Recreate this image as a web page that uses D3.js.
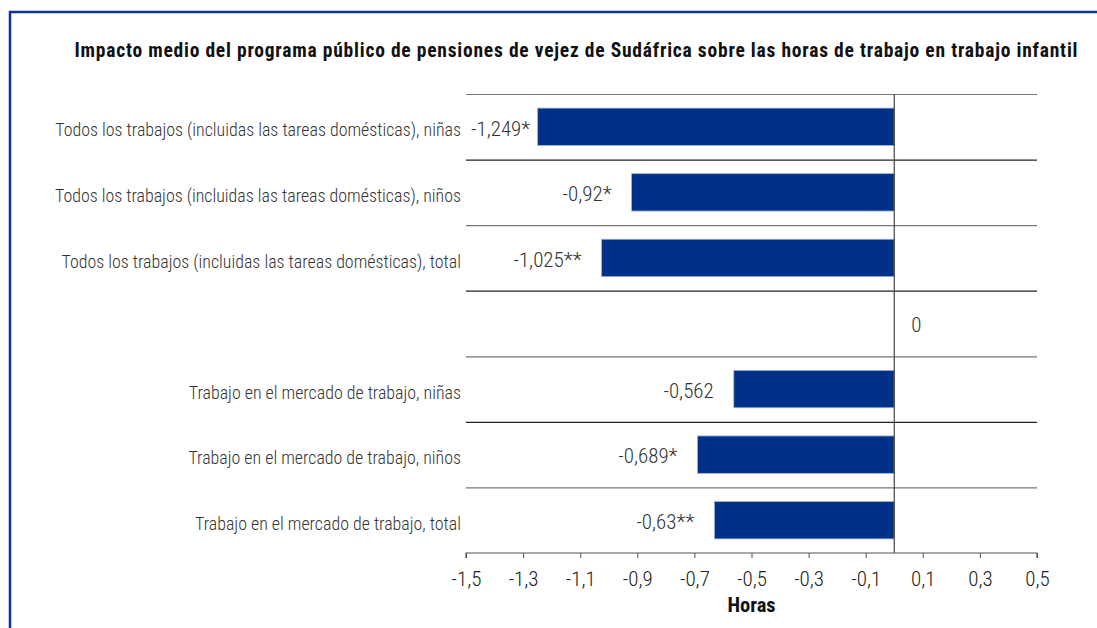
<!DOCTYPE html>
<html>
<head>
<meta charset="utf-8">
<script src="https://cdn.jsdelivr.net/npm/d3@7"></script>
<style>
  body { margin: 0; background: #fff; }
  svg { display: block; }
</style>
</head>
<body>
<script>
// data
var categories = [
  "Todos los trabajos (incluidas las tareas domésticas), niñas",
  "Todos los trabajos (incluidas las tareas domésticas), niños",
  "Todos los trabajos (incluidas las tareas domésticas), total",
  "",
  "Trabajo en el mercado de trabajo, niñas",
  "Trabajo en el mercado de trabajo, niños",
  "Trabajo en el mercado de trabajo, total"
];
var values = [-1.249, -0.92, -1.025, 0, -0.562, -0.689, -0.63];
var valueLabels = ["-1,249*", "-0,92*", "-1,025**", "0", "-0,562", "-0,689*", "-0,63**"];
var tickValues = [-1.5, -1.3, -1.1, -0.9, -0.7, -0.5, -0.3, -0.1, 0.1, 0.3, 0.5];
var title = "Impacto medio del programa público de pensiones de vejez de Sudáfrica sobre las horas de trabajo en trabajo infantil";
var axisTitle = "Horas";

var W = 1097, H = 628;
var mLeft = 466, mRight = 1037, mTop = 94, mBottom = 553;
var font = "'Roboto Condensed', 'Liberation Sans Narrow', sans-serif";

var svg = d3.select("body").append("svg")
    .attr("width", W).attr("height", H);

// frame
svg.append("path")
   .attr("d", "M10,628 L10,12 L1097,12")
   .attr("fill", "none")
   .attr("stroke", "#0a3591")
   .attr("stroke-width", 2.5);

svg.append("text")
   .attr("x", 576).attr("y", 57)
   .attr("text-anchor", "middle")
   .attr("textLength", 1003)
   .attr("lengthAdjust", "spacing")
   .style("font-family", font)
   .style("font-size", "19.5px")
   .style("font-weight", "bold")
   .attr("fill", "#111")
   .text(title);

var x = d3.scaleLinear().domain([-1.5, 0.5]).range([mLeft, mRight]);
var y = d3.scaleBand().domain(d3.range(categories.length)).range([mTop, mBottom]).paddingInner(0.43).paddingOuter(0.215);
var yb = d3.scaleBand().domain(d3.range(categories.length)).range([mTop, mBottom]);

// band lines
svg.append("g").selectAll("line")
   .data(d3.range(categories.length))
   .enter().append("line")
   .attr("x1", mLeft).attr("x2", mRight)
   .attr("y1", function(d) { return yb(d) + 0.5; })
   .attr("y2", function(d) { return yb(d) + 0.5; })
   .attr("stroke", function(d, i) { return i % 2 ? "#222" : "#777"; })
   .attr("stroke-width", 1.2);

// bars
svg.append("g").selectAll("rect")
   .data(values).enter()
   .append("rect")
   .attr("x", function(d) { return x(Math.min(0, d)); })
   .attr("y", function(d, i) { return y(i); })
   .attr("width", function(d) { return Math.abs(x(d) - x(0)); })
   .attr("height", y.bandwidth())
   .attr("fill", "#003087")
   .attr("stroke", function(d) { return d == 0 ? "none" : "#9fb3dc"; })
   .attr("stroke-width", 0.8);

// zero line
svg.append("line")
   .attr("x1", x(0)).attr("x2", x(0))
   .attr("y1", mTop).attr("y2", mBottom)
   .attr("stroke", "#444").attr("stroke-width", 1.2);

// x axis
var axis = d3.axisBottom(x)
    .tickValues(tickValues)
    .tickSize(5)
    .tickFormat(function(d) { return d3.format(".1f")(d).replace(".", ",").replace("−", "-"); });
var gx = svg.append("g")
    .attr("transform", "translate(0," + mBottom + ")")
    .call(axis);
gx.select(".domain").attr("stroke", "#555").attr("stroke-width", 1.2).attr("d", "M" + mLeft + ",5V0H" + mRight + "V5");
gx.selectAll(".tick line").attr("stroke", "#555");
gx.selectAll(".tick text")
  .attr("y", 33).attr("dy", 0)
  .style("font-family", font)
  .style("font-size", "21px")
  .style("font-weight", 300)
  .attr("fill", "#222");

svg.append("text")
   .attr("x", (mLeft + mRight) / 2).attr("y", 612)
   .attr("text-anchor", "middle")
   .style("font-family", font)
   .style("font-size", "20.5px")
   .style("font-weight", "bold")
   .attr("fill", "#111")
   .text(axisTitle);

// category labels
svg.append("g").selectAll("text")
   .data(categories).enter()
   .append("text")
   .attr("x", mLeft - 5)
   .attr("y", function(d, i) { return y(i) + y.bandwidth() / 2; })
   .attr("dy", "0.54em")
   .attr("text-anchor", "end")
   .style("font-family", font)
   .style("font-size", "17.9px")
   .style("font-weight", 300)
   .attr("fill", "#333")
   .text(function(d) { return d; });

// value labels
svg.append("g").selectAll("text")
   .data(values).enter()
   .append("text")
   .attr("y", function(d, i) { return y(i) + y.bandwidth() / 2; })
   .attr("dy", "0.42em")
   .attr("text-anchor", "start")
   .style("font-family", font)
   .style("font-size", "21px")
   .style("font-weight", 300)
   .attr("fill", "#333")
   .text(function(d, i) { return valueLabels[i]; })
   .attr("x", function(d) {
     var w = this.getComputedTextLength();
     if (d == 0) return x(0) + 17;
     return Math.max(mLeft + 5, x(d) - 20 - w);
   });
</script>
</body>
</html>
